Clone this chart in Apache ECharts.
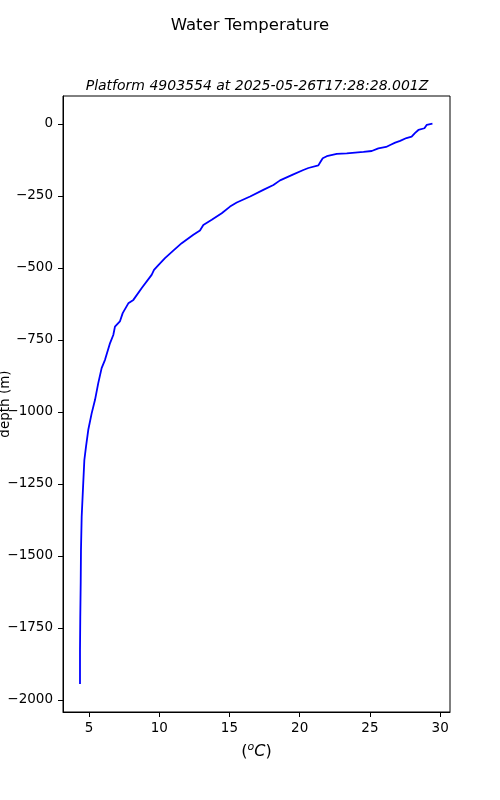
<!DOCTYPE html>
<html>
<head>
<meta charset="utf-8">
<script src="https://cdn.jsdelivr.net/npm/echarts@6/dist/echarts.min.js"></script>
<style>
  html, body { margin: 0; padding: 0; background: #fff; }
  #chart { width: 500px; height: 800px; }
</style>
</head>
<body>
<div id="chart"></div>
<script>
// profile, surface to bottom
var temperature = [29.45, 29.05, 28.88, 28.45, 28.2, 27.97, 27.6, 27.15, 26.8, 26.44, 26.15, 25.6, 25.13, 24.54,
  23.35, 22.64, 21.93, 21.64, 21.45, 21.33, 20.62, 20.26, 19.55, 18.6, 18.13, 17.41, 16.47, 15.52, 15.04,
  14.45, 13.74, 13.14, 12.9, 12.43, 11.6, 11.0, 10.41, 9.94, 9.63, 9.46, 8.77, 8.16, 7.8, 7.4, 7.2, 6.85,
  6.73, 6.5, 6.14, 5.9, 5.66, 5.43, 5.19, 4.95, 4.79, 4.67, 4.59, 4.48, 4.43, 4.41, 4.38, 4.36, 4.36];
var depth = [1, -3, -15, -21, -32, -44, -49, -59, -65, -73, -80, -85, -94, -97,
  -102, -104, -112, -119, -134, -144, -153, -160, -175, -196, -212, -229, -252, -273, -287,
  -310, -333, -351, -370, -385, -414, -440, -466, -490, -507, -524, -569, -611, -623, -657, -686, -704,
  -733, -761, -819, -848, -900, -958, -1005, -1062, -1120, -1167, -1248, -1363, -1479, -1594, -1711, -1826, -1945];
var xTicks = [5, 10, 15, 20, 25, 30];
var yTicks = [0, -250, -500, -750, -1000, -1250, -1500, -1750, -2000];

var points = temperature.map(function (t, i) { return [t, depth[i]]; });
var font = 'DejaVu Sans';

var option = {
  backgroundColor: '#fff',
  animation: false,
  title: [{
    text: 'Water Temperature',
    left: 'center', top: 12,
    textStyle: { fontFamily: font, fontSize: 16.5, fontWeight: 'normal', color: '#000' }
  }, {
    text: 'Platform 4903554 at 2025-05-26T17:28:28.001Z',
    left: 252, top: 74, textAlign: 'center',
    textStyle: { fontFamily: font, fontSize: 14, fontStyle: 'italic', fontWeight: 'normal', color: '#000' }
  }],
  grid: { left: 63, right: 50, top: 96, bottom: 88, outerBoundsMode: 'none', containLabel: false },
  xAxis: {
    type: 'value', min: 3.15, max: 30.7,
    name: '{p|(}{s|o}{i|C}{p|)}',
    nameLocation: 'middle', nameGap: 30, nameMoveOverlap: false,
    nameTextStyle: {
      rich: {
        p: { fontFamily: font, fontSize: 16, color: '#000' },
        i: { fontFamily: font, fontSize: 16, fontStyle: 'italic', color: '#000' },
        s: { fontFamily: font, fontSize: 11, fontStyle: 'italic', color: '#000', verticalAlign: 'top', padding: [0, 0, 8, 0] }
      }
    },
    axisLine: { show: true, onZero: false, lineStyle: { color: '#000', width: 1 } },
    axisTick: { show: true, length: 5, customValues: xTicks, lineStyle: { color: '#000' } },
    axisLabel: { customValues: xTicks, fontFamily: font, fontSize: 13.5, color: '#000', margin: 9 },
    splitLine: { show: false }
  },
  yAxis: {
    type: 'value', min: -2042, max: 97,
    name: 'depth (m)', nameLocation: 'middle', nameGap: 51, nameRotate: 90, nameMoveOverlap: false,
    nameTextStyle: { fontFamily: font, fontSize: 13.5, color: '#000' },
    axisLine: { show: true, onZero: false, lineStyle: { color: '#000', width: 1 } },
    axisTick: { show: true, length: 5, customValues: yTicks, lineStyle: { color: '#000' } },
    axisLabel: {
      customValues: yTicks, fontFamily: font, fontSize: 13.5, color: '#000', margin: 10,
      formatter: function (v) { return String(v).replace('-', '\u2212'); }
    },
    splitLine: { show: false }
  },
  series: [{
    type: 'line',
    data: points,
    showSymbol: false,
    smooth: false,
    lineStyle: { color: '#0000ff', width: 1.8 }
  }]
};

// right and top frame lines like matplotlib spines
option.graphic = [{
  type: 'rect', shape: { x: 63, y: 96, width: 387, height: 616 },
  style: { fill: null, stroke: '#000', lineWidth: 1 }, silent: true
}];

var chart = echarts.init(document.getElementById('chart'));
chart.setOption(option);
</script>
</body>
</html>
